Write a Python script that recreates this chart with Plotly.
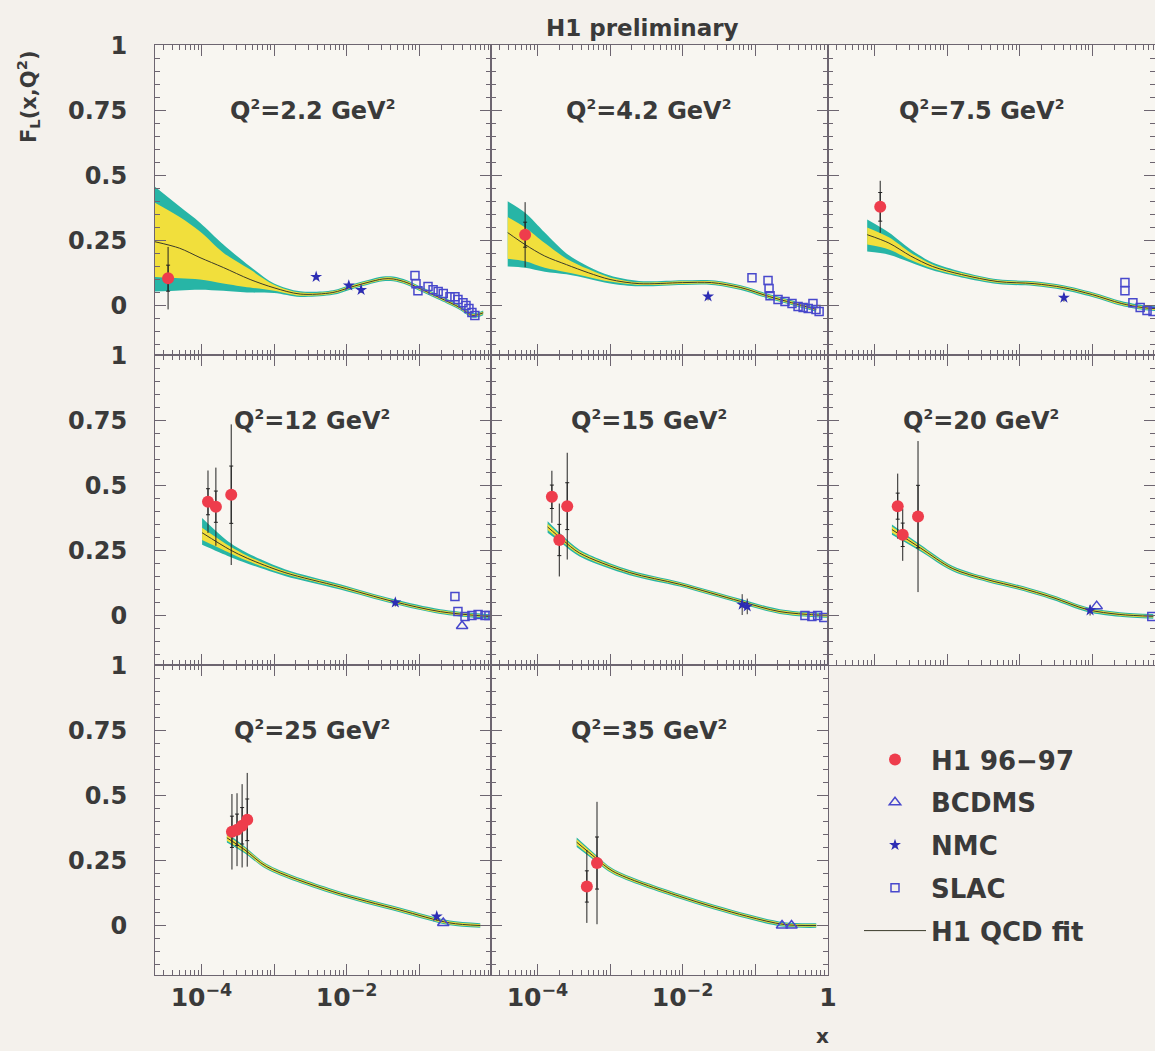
import plotly.graph_objects as go

# ---------------------------------------------------------------- data
Q2_LABELS = ["2.2", "4.2", "7.5", "12", "15", "20", "25", "35"]

# H1 96-97 F_L points: x, F_L, total error, statistical error
H1_X = [[3.47e-5], [6.76e-5], [1.20e-4],
        [1.23e-4, 1.58e-4, 2.57e-4],
        [1.58e-4, 2.00e-4, 2.57e-4],
        [2.09e-4, 2.45e-4, 3.98e-4],
        [2.63e-4, 3.09e-4, 3.63e-4, 4.27e-4],
        [4.79e-4, 6.61e-4]]
H1_FL = [[0.105], [0.272], [0.379],
         [0.437, 0.418, 0.464],
         [0.456, 0.290, 0.420],
         [0.420, 0.310, 0.380],
         [0.360, 0.368, 0.383, 0.406],
         [0.150, 0.240]]
H1_ERR = [[0.12], [0.125], [0.10],
          [0.12, 0.15, 0.27],
          [0.10, 0.14, 0.205],
          [0.125, 0.10, 0.29],
          [0.145, 0.14, 0.16, 0.18],
          [0.14, 0.235]]
H1_STAT = [[0.05], [0.048], [0.055],
           [0.05, 0.06, 0.11],
           [0.045, 0.06, 0.09],
           [0.05, 0.045, 0.12],
           [0.06, 0.06, 0.07, 0.08],
           [0.06, 0.10]]

# NMC
NMC_X = [[3.80e-3, 0.0107, 0.0158], [0.0224], [0.0407], [0.0468],
         [0.0661, 0.0776], [0.0933], [0.174], []]
NMC_FL = [[0.110, 0.077, 0.060], [0.035], [0.030], [0.050],
          [0.042, 0.035], [0.020], [0.035], []]
NMC_ERR = [[0.010, 0.010, 0.012], [0.015], [0.015], [0.015],
           [0.040, 0.030], [0.020], [0.015], []]

# BCDMS
BCDMS_X = [[], [], [], [0.389], [], [0.115], [0.214], [0.234, 0.316]]
BCDMS_FL = [[], [], [], [-0.040], [], [0.036], [0.010], [0.000, 0.000]]

# SLAC
SLAC_X = [[0.0873, 0.0902, 0.0959, 0.132, 0.155, 0.182, 0.214, 0.265, 0.310,
           0.341, 0.400, 0.440, 0.483, 0.531, 0.583],
          [0.0902, 0.150, 0.155, 0.160, 0.206, 0.257, 0.321, 0.389, 0.457,
           0.537, 0.624, 0.687, 0.759],
          [0.282, 0.282, 0.363, 0.457, 0.568, 0.687],
          [0.310, 0.341, 0.427, 0.531, 0.646, 0.804, 0.912],
          [0.484, 0.603, 0.724, 0.881],
          [0.661], [], []]
SLAC_FL = [[0.115, 0.084, 0.057, 0.073, 0.061, 0.054, 0.046, 0.034, 0.034,
            0.023, 0.011, 0.000, -0.011, -0.027, -0.038],
           [0.107, 0.096, 0.065, 0.038, 0.023, 0.015, 0.008, -0.004, -0.008,
            -0.011, 0.008, -0.015, -0.023],
           [0.088, 0.057, 0.011, -0.008, -0.019, -0.023],
           [0.073, 0.015, -0.004, 0.000, 0.004, 0.000, 0.000],
           [0.000, -0.004, 0.000, -0.008],
           [-0.004], [], []]

# H1 QCD fit: central value with inner and outer error bands
FIT_X = [
    [2.29e-5, 5.01e-5, 9.55e-5, 2.0e-4, 4.68e-4, 1.0e-3, 2.29e-3, 6.46e-3, 0.0112,
     0.0191, 0.0316, 0.0437, 0.0676, 0.1, 0.191, 0.363, 0.55, 0.759],
    [3.89e-5, 6.76e-5, 1.26e-4, 2.51e-4, 5.01e-4, 1.0e-3, 2.51e-3, 0.01, 0.0251,
     0.0631, 0.158, 0.316, 0.692],
    [7.94e-5, 1.58e-4, 3.16e-4, 6.31e-4, 1.58e-3, 5.01e-3, 0.0158, 0.0398, 0.1,
     0.251, 0.501, 0.741],
    [1.02e-4, 2.45e-4, 4.27e-4, 1.41e-3, 8.13e-3, 0.0437, 0.195, 0.933],
    [1.38e-4, 2.24e-4, 3.80e-4, 1.86e-3, 9.12e-3, 0.0617, 0.219, 0.977],
    [1.74e-4, 4.27e-4, 1.20e-3, 3.55e-3, 0.01, 0.0288, 0.0851, 0.240, 0.692],
    [2.24e-4, 3.98e-4, 7.94e-4, 6.46e-3, 0.0537, 0.263, 0.692],
    [3.47e-4, 6.31e-4, 1.10e-3, 9.12e-3, 0.0759, 0.251, 0.692],
]
FIT_MID = [
    [0.245, 0.22, 0.184, 0.146, 0.10, 0.068, 0.044, 0.05, 0.07, 0.088, 0.102,
     0.102, 0.088, 0.066, 0.03, -0.008, -0.038, -0.028],
    [0.28, 0.234, 0.19, 0.157, 0.126, 0.10, 0.084, 0.088, 0.088, 0.069, 0.034,
     0.011, -0.015],
    [0.272, 0.24, 0.19, 0.15, 0.119, 0.092, 0.084, 0.069, 0.042, 0.008, -0.008,
     -0.012],
    [0.318, 0.253, 0.22, 0.165, 0.11, 0.054, 0.015, -0.004],
    [0.34, 0.29, 0.24, 0.165, 0.12, 0.055, 0.015, 0.0],
    [0.33, 0.26, 0.18, 0.138, 0.107, 0.069, 0.023, 0.004, -0.003],
    [0.337, 0.29, 0.226, 0.13, 0.06, 0.01, 0.0],
    [0.32, 0.26, 0.208, 0.112, 0.036, 0.004, 0.0],
]
FIT_IN_HI = [
    [0.395, 0.34, 0.284, 0.203, 0.138, 0.08, 0.05, 0.055, 0.075, 0.093, 0.107,
     0.107, 0.093, 0.071, 0.035, -0.003, -0.033, -0.023],
    [0.34, 0.30, 0.24, 0.18, 0.14, 0.108, 0.089, 0.093, 0.093, 0.074, 0.039,
     0.016, -0.010],
    [0.30, 0.262, 0.203, 0.158, 0.125, 0.097, 0.089, 0.074, 0.047, 0.013,
     -0.003, -0.007],
    [0.337, 0.266, 0.23, 0.171, 0.115, 0.059, 0.020, 0.0],
    [0.352, 0.299, 0.247, 0.170, 0.125, 0.060, 0.020, 0.005],
    [0.342, 0.267, 0.185, 0.143, 0.112, 0.074, 0.028, 0.009, 0.002],
    [0.348, 0.298, 0.232, 0.135, 0.065, 0.015, 0.005],
    [0.331, 0.268, 0.214, 0.117, 0.041, 0.009, 0.005],
]
FIT_IN_LO = [
    [0.11, 0.105, 0.10, 0.085, 0.069, 0.057, 0.038, 0.045, 0.065, 0.083, 0.097,
     0.097, 0.083, 0.061, 0.025, -0.013, -0.043, -0.033],
    [0.18, 0.17, 0.145, 0.128, 0.11, 0.092, 0.079, 0.083, 0.083, 0.064, 0.029,
     0.006, -0.020],
    [0.234, 0.215, 0.175, 0.142, 0.113, 0.087, 0.079, 0.064, 0.037, 0.003,
     -0.013, -0.017],
    [0.29, 0.240, 0.21, 0.159, 0.105, 0.049, 0.010, -0.008],
    [0.328, 0.281, 0.233, 0.160, 0.115, 0.050, 0.010, -0.005],
    [0.318, 0.253, 0.175, 0.133, 0.102, 0.064, 0.018, -0.001, -0.008],
    [0.326, 0.282, 0.220, 0.125, 0.055, 0.005, -0.005],
    [0.309, 0.252, 0.202, 0.107, 0.031, -0.001, -0.005],
]
FIT_OUT_HI = [
    [0.456, 0.38, 0.318, 0.234, 0.15, 0.085, 0.055, 0.059, 0.079, 0.097, 0.111,
     0.111, 0.097, 0.075, 0.039, 0.001, -0.029, -0.019],
    [0.40, 0.356, 0.28, 0.20, 0.15, 0.115, 0.094, 0.097, 0.097, 0.078, 0.043,
     0.020, -0.006],
    [0.33, 0.28, 0.215, 0.165, 0.13, 0.101, 0.093, 0.078, 0.051, 0.017, 0.001,
     -0.003],
    [0.375, 0.28, 0.24, 0.178, 0.12, 0.063, 0.024, 0.005],
    [0.362, 0.306, 0.253, 0.175, 0.129, 0.064, 0.024, 0.009],
    [0.35, 0.273, 0.19, 0.147, 0.116, 0.078, 0.032, 0.013, 0.006],
    [0.355, 0.303, 0.236, 0.139, 0.069, 0.019, 0.009],
    [0.338, 0.273, 0.218, 0.121, 0.045, 0.013, 0.009],
]
FIT_OUT_LO = [
    [0.054, 0.058, 0.061, 0.057, 0.05, 0.048, 0.033, 0.041, 0.061, 0.079, 0.093,
     0.093, 0.079, 0.057, 0.021, -0.017, -0.047, -0.037],
    [0.15, 0.145, 0.13, 0.12, 0.103, 0.085, 0.074, 0.079, 0.079, 0.060, 0.025,
     0.002, -0.024],
    [0.207, 0.195, 0.165, 0.135, 0.108, 0.083, 0.075, 0.060, 0.033, -0.001,
     -0.017, -0.021],
    [0.272, 0.226, 0.20, 0.152, 0.10, 0.045, 0.006, -0.013],
    [0.318, 0.274, 0.227, 0.155, 0.111, 0.046, 0.006, -0.009],
    [0.31, 0.247, 0.17, 0.129, 0.098, 0.060, 0.014, -0.005, -0.012],
    [0.319, 0.277, 0.216, 0.121, 0.051, 0.001, -0.009],
    [0.302, 0.247, 0.198, 0.103, 0.027, -0.005, -0.009],
]

X_MAJOR = [1e-5, 1e-4, 1e-3, 1e-2, 1e-1, 1.0]
X_MAJOR_TEXT = ["", "10<sup>\u22124</sup>", "", "10<sup>\u22122</sup>", "", "1"]
Y_MAJOR = [0, 0.25, 0.5, 0.75, 1.0]
Y_MAJOR_TEXT = ["0", "0.25", "0.5", "0.75", "1"]

# ---------------------------------------------------------------- style
W, H = 1155, 1051
FONT = "DejaVu Sans"
TXT = "#3a3a3a"
AXC = "#6d6570"
RED = "#ee3d4c"
BLUE = "#2d2db4"
SQUARE_BLUE = "#4848cc"
TEAL = "#27b5a6"
YELLOW = "#f1df3c"

COLS = [(155, 491), (491, 828), (828, 1155)]
ROWS = [(45, 355), (355, 665), (665, 975)]
PX_PER_DECADE = 72.6
LOG_XMIN = -4.64

minor_x = [k * 10.0 ** d for d in range(-5, 0) for k in range(2, 10)]
SUP2 = "<sup><span style='font-size:14px'>2</span></sup>"

fig = go.Figure()


def axis_names(i):
    n = "" if i == 0 else str(i + 1)
    return "x" + n, "y" + n


first_legend = {}


def legend_flag(key):
    if key in first_legend:
        return False
    first_legend[key] = True
    return True


for i in range(8):
    xa, ya = axis_names(i)
    common = dict(xaxis=xa, yaxis=ya, hoverinfo="skip")
    spl = dict(shape="spline", smoothing=0.9)

    # outer band
    fig.add_trace(go.Scatter(x=FIT_X[i], y=FIT_OUT_LO[i], mode="lines",
                             line=dict(width=0, **spl), showlegend=False, **common))
    fig.add_trace(go.Scatter(x=FIT_X[i], y=FIT_OUT_HI[i], mode="lines",
                             line=dict(width=0, **spl), fill="tonexty",
                             fillcolor=TEAL, showlegend=False, **common))
    # inner band
    fig.add_trace(go.Scatter(x=FIT_X[i], y=FIT_IN_LO[i], mode="lines",
                             line=dict(width=0, **spl), showlegend=False, **common))
    fig.add_trace(go.Scatter(x=FIT_X[i], y=FIT_IN_HI[i], mode="lines",
                             line=dict(width=0, **spl), fill="tonexty",
                             fillcolor=YELLOW, showlegend=False, **common))
    # central fit
    fig.add_trace(go.Scatter(x=FIT_X[i], y=FIT_MID[i], mode="lines",
                             line=dict(width=1, color="#3b3b2a", **spl),
                             name="H1 QCD fit", legendgroup="fit", legendrank=5,
                             showlegend=legend_flag("fit"), **common))

    # SLAC
    if SLAC_X[i]:
        fig.add_trace(go.Scatter(x=SLAC_X[i], y=SLAC_FL[i], mode="markers",
                                 marker=dict(symbol="square-open", size=8,
                                             color=SQUARE_BLUE, line=dict(width=1.5)),
                                 name="SLAC", legendgroup="slac", legendrank=4,
                                 showlegend=legend_flag("slac"), **common))
    # BCDMS
    if BCDMS_X[i]:
        fig.add_trace(go.Scatter(x=BCDMS_X[i], y=BCDMS_FL[i], mode="markers",
                                 marker=dict(symbol="triangle-up-open", size=10,
                                             color=SQUARE_BLUE, line=dict(width=1.5)),
                                 name="BCDMS", legendgroup="bcdms", legendrank=2,
                                 showlegend=legend_flag("bcdms"), **common))
    # NMC
    if NMC_X[i]:
        fig.add_trace(go.Scatter(x=NMC_X[i], y=NMC_FL[i], mode="markers",
                                 marker=dict(symbol="star", size=9, color=BLUE),
                                 error_y=dict(type="data", array=NMC_ERR[i],
                                              color="#333", thickness=1, width=0),
                                 name="NMC", legendgroup="nmc", legendrank=3,
                                 showlegend=legend_flag("nmc"), **common))

    # H1: statistical ticks, then total error with the markers on top
    fig.add_trace(go.Scatter(x=H1_X[i], y=H1_FL[i], mode="markers",
                             marker=dict(size=1, opacity=0),
                             error_y=dict(type="data", array=H1_STAT[i],
                                          color="#222", thickness=1, width=2),
                             showlegend=False, **common))
    fig.add_trace(go.Scatter(x=H1_X[i], y=H1_FL[i], mode="markers",
                             marker=dict(symbol="circle", size=12, color=RED),
                             error_y=dict(type="data", array=H1_ERR[i],
                                          color="#222", thickness=1, width=0),
                             name="H1 96\u221297", legendgroup="h1", legendrank=1,
                             showlegend=legend_flag("h1"), **common))

layout_axes = {}
annotations = []
for i in range(8):
    r, c = divmod(i, 3)
    xa, ya = axis_names(i)
    x0, x1 = COLS[c]
    y0, y1 = ROWS[r]
    width_dec = (x1 - x0) / PX_PER_DECADE
    xmax = LOG_XMIN + width_dec
    if c == 1:
        xmax += 0.0005
    xtext = list(X_MAJOR_TEXT)
    if c == 0:
        xtext[-1] = ""
    layout_axes["xaxis" + xa[1:]] = dict(
        type="log", domain=[x0 / W, x1 / W], anchor=ya, automargin=False,
        range=[LOG_XMIN, xmax], showgrid=False, zeroline=False,
        showline=True, linecolor=AXC, linewidth=1, mirror="ticks",
        ticks="inside", ticklen=11, tickwidth=1, tickcolor=AXC,
        tickmode="array", tickvals=X_MAJOR, ticktext=xtext,
        showticklabels=(r == 2),
        tickfont=dict(family=FONT, size=25, color=TXT, weight="bold"),
        minor=dict(ticks="inside", ticklen=5, tickwidth=1, tickcolor=AXC,
                   tickmode="array", tickvals=minor_x),
    )
    layout_axes["yaxis" + ya[1:]] = dict(
        domain=[1 - y1 / H, 1 - y0 / H], anchor=xa, automargin=False,
        range=[-0.19, 1.0005], showgrid=False, zeroline=False,
        showline=True, linecolor=AXC, linewidth=1, mirror="ticks",
        ticks="inside", ticklen=11, tickwidth=1, tickcolor=AXC,
        tickmode="array", tickvals=Y_MAJOR, ticktext=Y_MAJOR_TEXT,
        showticklabels=(c == 0), ticklabelstandoff=22,
        tickfont=dict(family=FONT, size=24, color=TXT, weight="bold"),
        minor=dict(ticks="inside", ticklen=5, tickwidth=1, tickcolor=AXC,
                   dtick=0.05, tick0=0),
    )
    annotations.append(dict(
        text="Q" + SUP2 + "=" + Q2_LABELS[i] + " GeV" + SUP2,
        xref=xa + " domain", yref=ya, x=0.468, y=0.75,
        showarrow=False, xanchor="center", yanchor="middle",
        font=dict(family=FONT, size=24, color=TXT, weight="bold"),
    ))

annotations += [
    dict(text="H1 preliminary", xref="paper", yref="paper",
         x=642 / W, y=1 - 28 / H, showarrow=False,
         xanchor="center", yanchor="middle",
         font=dict(family=FONT, size=23, color=TXT, weight="bold")),
    dict(text="F<sub>L</sub>(x,Q<sup>2</sup>)", xref="paper", yref="paper",
         x=28 / W, y=1 - 97 / H, showarrow=False, textangle=-90,
         xanchor="center", yanchor="middle",
         font=dict(family=FONT, size=21, color=TXT, weight="bold")),
    dict(text="x", xref="paper", yref="paper",
         x=822 / W, y=1 - 1036 / H, showarrow=False,
         xanchor="center", yanchor="middle",
         font=dict(family=FONT, size=20, color=TXT, weight="bold")),
]

fig.update_layout(
    width=W, height=H,
    margin=dict(l=0, r=0, t=0, b=0, autoexpand=False),
    paper_bgcolor="#f4f1ec",
    plot_bgcolor="#f8f6f1",
    annotations=annotations,
    showlegend=True,
    legend=dict(x=859 / W, y=1 - 736 / H, xanchor="left", yanchor="top",
                bgcolor="rgba(0,0,0,0)", tracegroupgap=6, itemwidth=62,
                font=dict(family=FONT, size=26, color=TXT, weight="bold")),
    **layout_axes,
)

fig.write_html("out.html")
